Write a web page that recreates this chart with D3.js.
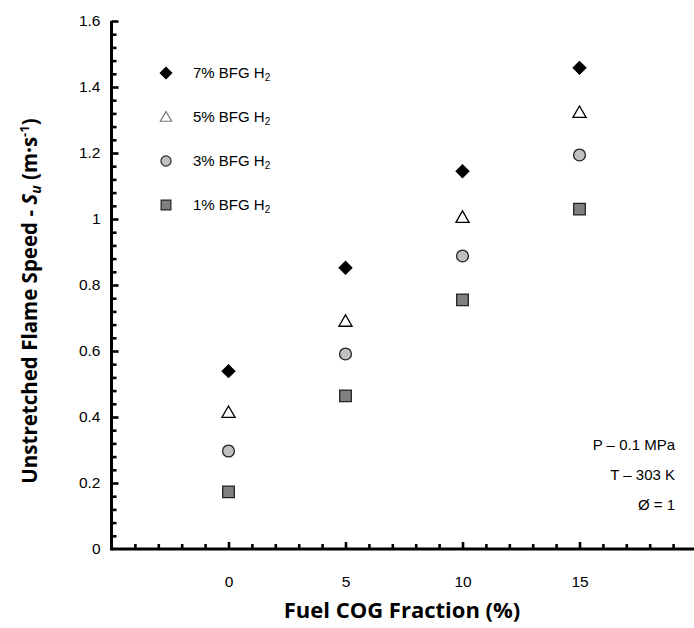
<!DOCTYPE html>
<html><head><meta charset="utf-8">
<script src="https://cdn.jsdelivr.net/npm/d3@7"></script>
<style>body{margin:0;background:#fff}svg{display:block}</style>
</head><body>
<svg id="c" width="694" height="628"></svg>
<script>
const cogFraction = [0, 5, 10, 15];
const seriesNames = ["7% BFG H", "5% BFG H", "3% BFG H", "1% BFG H"];
const s7 = [0.539, 0.852, 1.145, 1.458];
const s5 = [0.415, 0.691, 1.006, 1.324];
const s3 = [0.297, 0.591, 0.888, 1.194];
const s1 = [0.173, 0.464, 0.755, 1.030];
const xTickLabels = [0, 5, 10, 15];
const yTickLabels = [0, 0.2, 0.4, 0.6, 0.8, 1, 1.2, 1.4, 1.6];
const notes = ["P \u2013 0.1 MPa", "T \u2013 303 K", "\u00D8 = 1"];

const svg = d3.select("#c");
const x = d3.scaleLinear().domain([-5, 20]).range([111.5, 696.5]);
const y = d3.scaleLinear().domain([0, 1.6]).range([549, 21]);
const font = "'Liberation Sans', Arial, sans-serif";

const xMinor = d3.range(-4, 21, 1).filter(v => v % 5 !== 0);
const xMajor = d3.range(0, 21, 5);
const yMinor = d3.range(0, 1.6001, 0.04).filter((v, i) => i % 5 !== 0).map(v => +v.toFixed(2));
const yMajor = yTickLabels.slice(1);

function tickGroup(axis, tr) {
  const g = svg.append("g").attr("transform", tr).call(axis);
  g.select(".domain").remove();
  g.selectAll(".tick line").attr("stroke", "#000").attr("stroke-width", 2.6);
  return g;
}
tickGroup(d3.axisBottom(x).tickValues(xMinor).tickSize(-5).tickFormat(""), `translate(0,${y(0)})`);
tickGroup(d3.axisBottom(x).tickValues(xMajor).tickSize(-7).tickFormat(""), `translate(0,${y(0)})`);
tickGroup(d3.axisLeft(y).tickValues(yMinor).tickSize(-5).tickFormat(""), `translate(${x(-5)},0)`);
tickGroup(d3.axisLeft(y).tickValues(yMajor).tickSize(-7).tickFormat(""), `translate(${x(-5)},0)`);

const xl = svg.append("g").attr("transform", `translate(0,${y(0)})`)
  .call(d3.axisBottom(x).tickValues(xTickLabels).tickSize(0).tickPadding(27).tickFormat(d3.format("d")));
xl.select(".domain").remove();
xl.selectAll("text").attr("font-family", font).attr("font-size", 15.5).attr("fill", "#000");
const yl = svg.append("g").attr("transform", `translate(${x(-5)},0)`)
  .call(d3.axisLeft(y).tickValues(yTickLabels).tickSize(0).tickPadding(11).tickFormat(d => d3.format("")(+d.toFixed(1))));
yl.select(".domain").remove();
yl.selectAll("text").attr("font-family", font).attr("font-size", 15.5).attr("fill", "#000");

svg.append("line").attr("x1", x(-5)).attr("x2", 694).attr("y1", y(0)).attr("y2", y(0))
  .attr("stroke", "#000").attr("stroke-width", 3);
svg.append("line").attr("x1", x(-5)).attr("x2", x(-5)).attr("y1", y(1.6)).attr("y2", y(0) + 1.5)
  .attr("stroke", "#000").attr("stroke-width", 3);

const styles = [
  {type: d3.symbolSquare, rot: 45, size: 85, fill: "#000", stroke: "#000", sw: 1},
  {type: d3.symbolTriangle, rot: 0, size: 75, fill: "#fff", stroke: "#000", sw: 1.3},
  {type: d3.symbolCircle, rot: 0, size: 110, fill: "#c0c0c0", stroke: "#222", sw: 1.3},
  {type: d3.symbolSquare, rot: 0, size: 135, fill: "#808080", stroke: "#222", sw: 1.3}
];
const allSeries = [s7, s5, s3, s1];
allSeries.forEach((s, i) => {
  const st = styles[i];
  svg.append("g").selectAll("path").data(s).join("path")
    .attr("transform", (d, j) => `translate(${x(cogFraction[j])},${y(d) + (i === 1 ? 1.5 : 0)}) rotate(${st.rot})`)
    .attr("d", d3.symbol().type(st.type).size(st.size))
    .attr("fill", st.fill).attr("stroke", st.stroke).attr("stroke-width", st.sw);
});

const legY = [73, 117, 161, 205];
const legStyles = [
  {size: 65, stroke: "#000"}, {size: 55, stroke: "#777"}, {size: 80, stroke: "#222"}, {size: 95, stroke: "#222"}
];
seriesNames.forEach((n, i) => {
  const st = styles[i];
  svg.append("path").attr("transform", `translate(166,${legY[i] + (i === 1 ? 1 : 0)}) rotate(${st.rot})`)
    .attr("d", d3.symbol().type(st.type).size(legStyles[i].size))
    .attr("fill", st.fill).attr("stroke", legStyles[i].stroke).attr("stroke-width", 1.2);
  const t = svg.append("text").attr("x", 193).attr("y", legY[i] + 5)
    .attr("font-family", font).attr("font-size", 15).attr("fill", "#000");
  t.append("tspan").text(n);
  t.append("tspan").attr("font-size", 10).attr("dy", 3).text("2");
});

notes.forEach((n, i) => {
  svg.append("text").attr("x", 675).attr("y", 450 + i * 30).attr("text-anchor", "end")
    .attr("font-family", font).attr("font-size", 15).attr("fill", "#000").text(n);
});

const tfont = "'Open Sans', Calibri, sans-serif";
svg.append("text").attr("x", 402).attr("y", 618).attr("text-anchor", "middle")
  .attr("font-family", tfont).attr("font-weight", "bold").attr("font-size", 22).attr("fill", "#000")
  .text("Fuel COG Fraction (%)");
const yt = svg.append("text").attr("transform", "translate(37,301) rotate(-90)").attr("text-anchor", "middle")
  .attr("font-family", tfont).attr("font-weight", "bold").attr("font-size", 20.5).attr("fill", "#000");
yt.append("tspan").text("Unstretched Flame Speed - ");
yt.append("tspan").attr("font-style", "italic").text("S");
yt.append("tspan").attr("font-style", "italic").attr("font-size", 14).attr("dy", 4).text("u");
yt.append("tspan").attr("dy", -4).text(" (m\u00B7s");
yt.append("tspan").attr("font-size", 13).attr("dy", -8).text("-1");
yt.append("tspan").attr("dy", 8).text(")");
</script>
</body></html>
